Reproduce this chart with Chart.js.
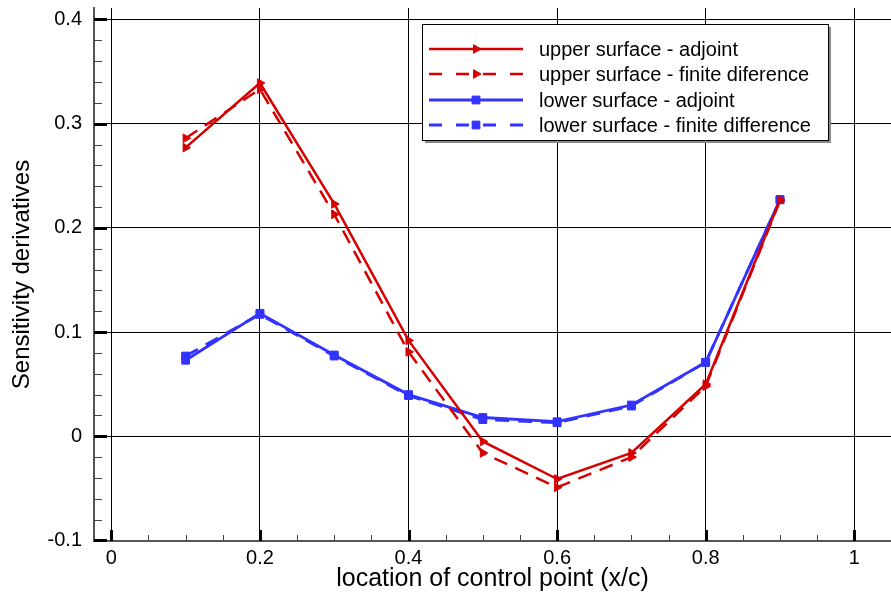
<!DOCTYPE html>
<html>
<head>
<meta charset="utf-8">
<script src="https://cdn.jsdelivr.net/npm/chart.js@4.4.1/dist/chart.umd.min.js"></script>
<style>
  body { margin: 0; background: #fff; }
  canvas { display: block; }
</style>
</head>
<body>
<canvas id="grafico" width="891" height="597"></canvas>
<script>
// --- dados ---
const controlPoints = [0.1, 0.2, 0.3, 0.4, 0.5, 0.6, 0.7, 0.8, 0.9];
const upperAdjoint = [0.277, 0.339, 0.223, 0.092, -0.005, -0.041, -0.016, 0.050, 0.227];
const upperFiniteDiff = [0.286, 0.333, 0.213, 0.081, -0.016, -0.049, -0.020, 0.048, 0.226];
const lowerAdjoint = [0.073, 0.118, 0.078, 0.040, 0.018, 0.014, 0.030, 0.071, 0.227];
const lowerFiniteDiff = [0.077, 0.117, 0.077, 0.039, 0.016, 0.013, 0.029, 0.071, 0.227];

const xTicks = [0, 0.2, 0.4, 0.6, 0.8, 1];
const xTickLabels = ['0', '0.2', '0.4', '0.6', '0.8', '1'];
const yTicks = [-0.1, 0, 0.1, 0.2, 0.3, 0.4];
const yTickLabels = ['-0.1', '0', '0.1', '0.2', '0.3', '0.4'];

const seriesNames = [
    'upper surface - adjoint',
    'upper surface - finite diference',
    'lower surface - adjoint',
    'lower surface - finite difference'
];

const RED = '#d60000';
const BLUE = '#3333ff';
const FONT = '"Liberation Sans", Arial, Helvetica, sans-serif';

function pontos(valores) {
    return controlPoints.map((x, i) => ({ x: x, y: valores[i] }));
}

function serie(label, valores, cor, tracejado, estilo) {
    return {
        label: label,
        data: pontos(valores),
        borderColor: cor,
        backgroundColor: cor,
        borderWidth: cor === BLUE ? 2.8 : 2.5,
        borderDash: tracejado ? [14, 9] : [],
        pointStyle: estilo,
        pointRotation: estilo === 'triangle' ? 90 : 0,
        pointRadius: estilo === 'triangle' ? 5 : 5.5,
        pointBorderWidth: 1,
        pointBorderColor: cor,
        pointBackgroundColor: cor,
        tension: 0,
        fill: false
    };
}

// marcas de escala (maiores e menores) desenhadas para dentro, estilo Tecplot
const ticksInternos = {
    id: 'ticksInternos',
    afterDraw(chart) {
        const { ctx, chartArea, scales } = chart;
        const sx = scales.x, sy = scales.y;
        ctx.save();
        // menores
        ctx.strokeStyle = '#444';
        ctx.lineWidth = 1;
        for (let v = -0.1; v <= 0.41; v += 0.02) {
            const py = Math.round(sy.getPixelForValue(v)) + 0.5;
            ctx.beginPath();
            ctx.moveTo(chartArea.left, py);
            ctx.lineTo(chartArea.left + 8, py);
            ctx.stroke();
        }
        for (let v = 0; v <= 1.05; v += 0.05) {
            const px = Math.round(sx.getPixelForValue(v)) + 0.5;
            ctx.beginPath();
            ctx.moveTo(px, chartArea.bottom);
            ctx.lineTo(px, chartArea.bottom - 6);
            ctx.stroke();
        }
        // maiores
        ctx.strokeStyle = '#000';
        ctx.lineWidth = 3;
        yTicks.forEach(v => {
            const py = Math.round(sy.getPixelForValue(v)) + 0.5;
            ctx.beginPath();
            ctx.moveTo(chartArea.left, py);
            ctx.lineTo(chartArea.left + 13, py);
            ctx.stroke();
        });
        xTicks.forEach(v => {
            const px = Math.round(sx.getPixelForValue(v)) + 0.5;
            ctx.beginPath();
            ctx.moveTo(px, chartArea.bottom);
            ctx.lineTo(px, chartArea.bottom - 11);
            ctx.stroke();
        });
        ctx.restore();
    }
};

// legenda em caixa com sombra, com amostra de linha + marcador
const legendaCaixa = {
    id: 'legendaCaixa',
    afterDraw(chart) {
        const { ctx } = chart;
        const box = { x: 422, y: 24, w: 406, h: 116 };
        ctx.save();
        ctx.fillStyle = '#8a8a8a';
        ctx.fillRect(box.x + 3, box.y + 3, box.w, box.h);
        ctx.fillStyle = '#fff';
        ctx.fillRect(box.x, box.y, box.w, box.h);
        ctx.strokeStyle = '#000';
        ctx.lineWidth = 1;
        ctx.strokeRect(box.x + 0.5, box.y + 0.5, box.w, box.h);

        const linhas = [49, 74, 100, 125];
        chart.data.datasets.forEach((ds, i) => {
            const y = linhas[i];
            ctx.strokeStyle = ds.borderColor;
            ctx.fillStyle = ds.backgroundColor;
            ctx.lineWidth = ds.borderWidth;
            ctx.setLineDash(ds.borderDash.length ? [13, 14] : []);
            ctx.beginPath();
            ctx.moveTo(429, y);
            ctx.lineTo(523, y);
            ctx.stroke();
            ctx.setLineDash([]);
            ctx.lineWidth = 1;
            Chart.helpers.drawPoint(ctx, {
                pointStyle: ds.pointStyle,
                rotation: ds.pointRotation,
                radius: ds.pointRadius,
                borderWidth: 1
            }, 476, y);

            ctx.fillStyle = '#000';
            ctx.font = '20px ' + FONT;
            ctx.textAlign = 'left';
            ctx.textBaseline = 'middle';
            ctx.fillText(ds.label, 539, y + 1);
        });
        ctx.restore();
    }
};

const ctxGrafico = document.getElementById('grafico');
new Chart(ctxGrafico, {
    type: 'line',
    data: {
        datasets: [
            serie(seriesNames[0], upperAdjoint, RED, false, 'triangle'),
            serie(seriesNames[1], upperFiniteDiff, RED, true, 'triangle'),
            serie(seriesNames[2], lowerAdjoint, BLUE, false, 'rect'),
            serie(seriesNames[3], lowerFiniteDiff, BLUE, true, 'rect')
        ]
    },
    options: {
        responsive: false,
        animation: false,
        devicePixelRatio: 1,
        layout: { autoPadding: false, padding: { top: 8, right: 0, left: 0, bottom: 0 } },
        plugins: {
            legend: { display: false },
            tooltip: { enabled: false }
        },
        scales: {
            x: {
                type: 'linear',
                min: -0.0233,
                max: 1.0494,
                afterBuildTicks: (axis) => { axis.ticks = xTicks.map(v => ({ value: v })); },
                afterFit: (scale) => { scale.height = 56; scale.paddingLeft = 0; scale.paddingRight = 0; },
                grid: { color: '#000', lineWidth: 1, drawTicks: false },
                border: { display: true, color: '#555', width: 2 },
                ticks: {
                    color: '#000',
                    padding: 5,
                    maxRotation: 0,
                    autoSkip: false,
                    font: { family: FONT, size: 20 },
                    callback: (valor, i) => xTickLabels[i]
                },
                title: {
                    display: true,
                    text: 'location of control point (x/c)',
                    color: '#000',
                    font: { family: FONT, size: 25 },
                    padding: { top: 0, bottom: 3 }
                }
            },
            y: {
                type: 'linear',
                min: -0.1005,
                max: 0.411,
                afterBuildTicks: (axis) => { axis.ticks = yTicks.map(v => ({ value: v })); },
                afterFit: (scale) => { scale.width = 94; scale.paddingTop = 0; scale.paddingBottom = 0; },
                grid: { color: '#000', lineWidth: 1, drawTicks: false },
                border: { display: true, color: '#555', width: 2 },
                ticks: {
                    color: '#000',
                    padding: 12,
                    autoSkip: false,
                    font: { family: FONT, size: 20 },
                    callback: (valor, i) => yTickLabels[i]
                },
                title: {
                    display: true,
                    text: 'Sensitivity derivatives',
                    color: '#000',
                    font: { family: FONT, size: 24 },
                    padding: { top: 8, bottom: 0 }
                }
            }
        }
    },
    plugins: [ticksInternos, legendaCaixa]
});
</script>
</body>
</html>
